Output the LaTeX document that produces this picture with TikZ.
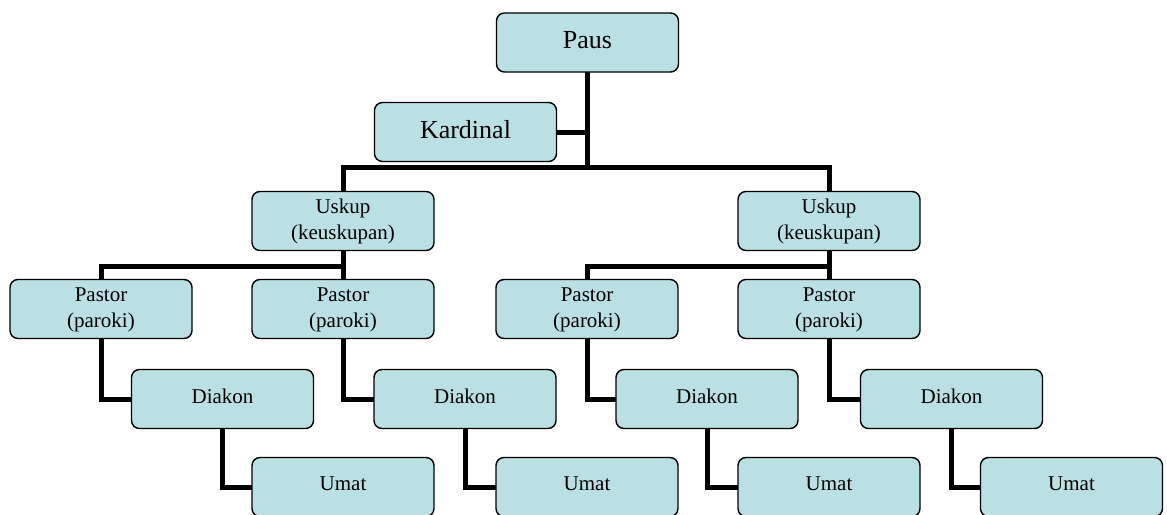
\documentclass[tikz,border=0pt]{standalone}
\usepackage{fontspec}
\setmainfont{Liberation Serif}
\usetikzlibrary{backgrounds}
\definecolor{boxfill}{RGB}{186,224,227}
\newcommand{\onel}[1]{\raisebox{6pt}{#1}}
\newcommand{\twol}[3]{\raisebox{#1}{\begin{tabular}{@{}c@{}}#2\\#3\end{tabular}}}
\begin{document}
\begin{tikzpicture}[x=1pt,y=-1pt,
  box/.style={draw=black,line width=1.4pt,fill=boxfill,rounded corners=8pt,
    minimum width=182pt,minimum height=59pt,inner sep=0pt,outer sep=0pt,
    font=\fontsize{21}{26}\selectfont,align=center},
  bigbox/.style={box,font=\fontsize{26}{30}\selectfont},
  conn/.style={draw=black,line width=5pt,line join=miter}]
\useasboundingbox (0,0) rectangle (1167,514);
% top
\node[bigbox] (paus) at (587.5,42.5) {\onel{Paus}};
\node[bigbox] (kard) at (465.5,132) {\onel{Kardinal}};
% bishops
\node[box] (uskL) at (343,221) {\twol{0pt}{Uskup}{(keuskupan)}};
\node[box] (uskR) at (829,221) {\twol{0pt}{Uskup}{(keuskupan)}};
% pastors
\node[box] (pas1) at (101,309) {\twol{-5pt}{Pastor}{(paroki)}};
\node[box] (pas2) at (343,309) {\twol{-5pt}{Pastor}{(paroki)}};
\node[box] (pas3) at (587,309) {\twol{-5pt}{Pastor}{(paroki)}};
\node[box] (pas4) at (829,309) {\twol{-5pt}{Pastor}{(paroki)}};
% deacons
\node[box] (dia1) at (222.5,399) {\onel{Diakon}};
\node[box] (dia2) at (465,399) {\onel{Diakon}};
\node[box] (dia3) at (707,399) {\onel{Diakon}};
\node[box] (dia4) at (951.5,399) {\onel{Diakon}};
% faithful
\node[box] (uma1) at (343,487) {\onel{Umat}};
\node[box] (uma2) at (587,487) {\onel{Umat}};
\node[box] (uma3) at (829,487) {\onel{Umat}};
\node[box] (uma4) at (1071.5,487) {\onel{Umat}};
\coordinate (busA) at (0,167);
\coordinate (busB) at (0,266);
\begin{pgfonlayer}{background}
  \fill[white] (0,0) rectangle (1167,514);
  \draw[conn] (paus.south) -- (paus.south |- busA);
  \draw[conn] (kard.east) -- (kard.east -| paus.south);
  \draw[conn] (uskL.north) |- (uskR.north |- busA) -- (uskR.north);
  \draw[conn] (pas1.north) |- (uskL.south |- busB);
  \draw[conn] (uskL.south) -- (pas2.north);
  \draw[conn] (pas3.north) |- (uskR.south |- busB);
  \draw[conn] (uskR.south) -- (pas4.north);
  \foreach \i in {1,2,3,4} {
    \draw[conn] (pas\i.south) |- (dia\i.west);
    \draw[conn] (dia\i.south) |- (uma\i.west);
  }
\end{pgfonlayer}
\end{tikzpicture}
\end{document}
